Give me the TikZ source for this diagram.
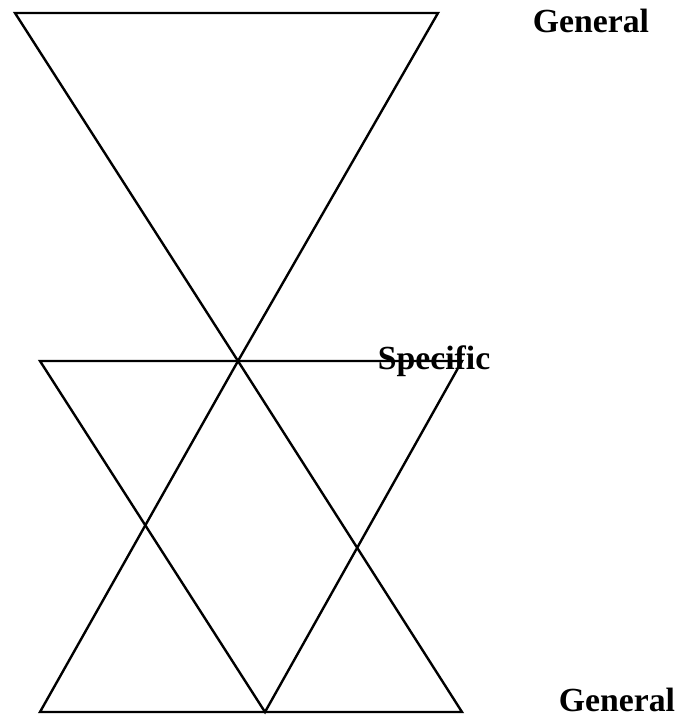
\documentclass[tikz,border=0pt]{standalone}
\usepackage{fontspec}
\setmainfont{Liberation Serif}

\begin{document}
\begin{tikzpicture}[x=0.025cm, y=-0.025cm, line width=1.7pt, line join=miter,
  lbl/.style={font=\fontsize{24}{28}\selectfont\bfseries, anchor=base, inner sep=0pt}]

  \useasboundingbox (0,0) rectangle (679,719);

  % --- Points ---
  \coordinate (TL) at (15,13);
  \coordinate (TR) at (438,13);
  \coordinate (M)  at (238,361);
  \coordinate (ML) at (40,361);
  \coordinate (MR) at (462,361);
  \coordinate (BL) at (40,712);
  \coordinate (BR) at (462,712);
  \coordinate (B)  at (265,712);

  % --- Top triangle ---
  \draw (TL) -- (TR) -- (M) -- cycle;

  % --- Lower triangles ---
  \draw (ML) -- (MR) -- (B) -- cycle;
  \draw (M) -- (BR) -- (BL) -- cycle;

  % --- Labels ---
  \node[lbl] (gentop) at (591,32)  {General};
  \node[lbl] (spec)   at (434,369) {Specific};
  \node[lbl] (genbot) at (617,711) {General};

\end{tikzpicture}
\end{document}
